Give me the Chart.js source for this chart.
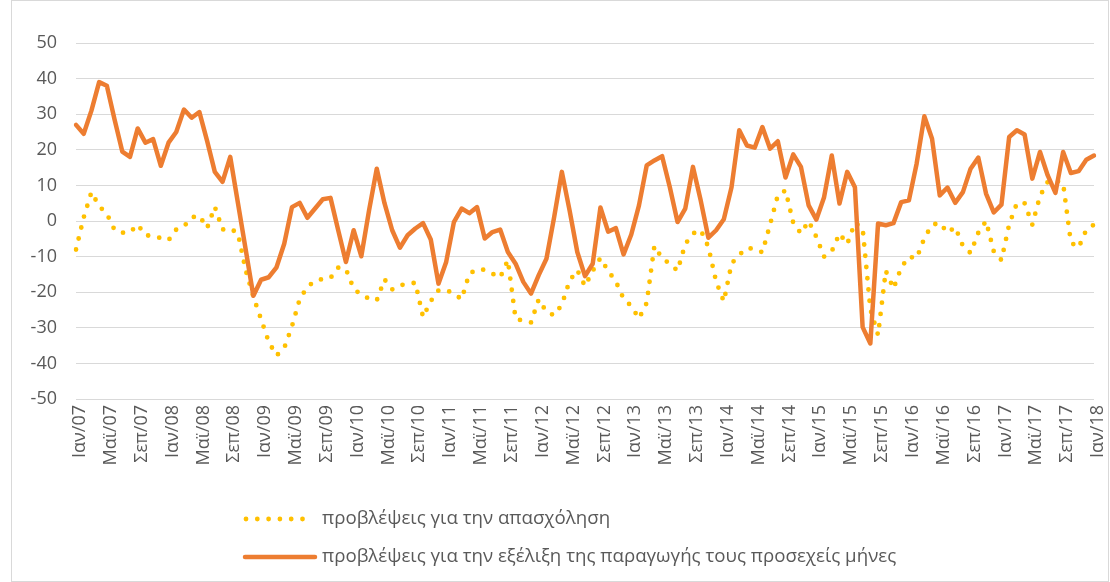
<!DOCTYPE html>
<html lang="el">
<head>
<meta charset="UTF-8">
<title>Προβλέψεις</title>
<script src="https://cdn.jsdelivr.net/npm/chart.js"></script>
<style>
  html, body { margin: 0; padding: 0; background: #fff; }
  #wrap { width: 1110px; height: 582px; position: relative; }
</style>
<script>
// monthly labels Ιαν/07 .. Ιαν/18
const monthNames = ['Ιαν','Φεβ','Μαρ','Απρ','Μαϊ','Ιουν','Ιουλ','Αυγ','Σεπ','Οκτ','Νοε','Δεκ'];
const years = ['07','08','09','10','11','12','13','14','15','16','17','18'];

// y axis ticks
const yTicks = [-50, -40, -30, -20, -10, 0, 10, 20, 30, 40, 50];

// προβλέψεις για την απασχόληση
const employment = [
  -8, 1, 8.1, 4.2, 2, -2.5, -3.3, -3.2, -1, -4, -4.2, -4.8,
  -5.4, -2.4, -1.5, 1, 1.5, -2, 4, -2.4, -2.1, -3.5, -13.8, -21.3,
  -27.6, -34, -37.8, -35.7, -29.6, -22, -18.5, -16.8, -16.3, -16, -13.1, -13.5,
  -19, -20.8, -21.8, -22.3, -16.4, -19.2, -18, -17.8, -17.3, -27, -22.5, -19.5,
  -19.4, -20.4, -22, -14.8, -13.6, -13.7, -14.8, -15.9, -11, -27.5, -28, -28.5,
  -22, -25.5, -26.5, -23.5, -16.8, -13.8, -18.3, -14, -10.4, -14, -17, -21.8,
  -23.9, -27.4, -23, -7, -10.5, -12, -14, -6.5, -3.5, -2.5, -7.3, -17,
  -22.6, -12, -9.5, -7.6, -7.8, -8.8, -1, 7.2, 8.6, -0.5, -3.5, 0,
  -4.5, -10, -8.5, -3.5, -6.5, -0.5, -2, -24.8, -32, -14, -19, -13.1,
  -10, -10.5, -4.8, -1.1, -0.5, -3.3, -1.7, -7, -9, -3.3, 0, -8.5,
  -11, -1, 5, 5, -1, 7, 11, 11.5, 10.5, -6, -7.5, -2.5,
  -1
];

// προβλέψεις για την εξέλιξη της παραγωγής τους προσεχείς μήνες
const production = [
  27, 24.5, 31, 39, 38, 28.5, 19.5, 18, 26, 22, 23, 15.5,
  22, 25, 31.3, 29, 30.6, 22.5, 13.8, 11, 18, 5, -8, -21,
  -16.5, -15.8, -13, -6.4, 3.9, 5.1, 0.9, 3.5, 6.1, 6.5, -2.6, -11.5,
  -2.6, -9.9, 3, 14.7, 5, -2.6, -7.5, -4, -2.1, -0.6, -5.2, -17.6,
  -11.5, -0.3, 3.5, 2.2, 3.9, -4.9, -3.1, -2.4, -8.7, -12, -17.1, -20.4,
  -15.2, -10.6, 1.1, 13.8, 3, -8.7, -15.5, -12, 3.8, -3, -2, -9.4,
  -3.8, 4.4, 15.6, 17, 18.2, 9.5, -0.3, 3.5, 15.2, 5.8, -4.7, -2.6,
  0.5, 9.5, 25.5, 21.2, 20.6, 26.4, 20.3, 22.4, 12.2, 18.7, 15.2, 4.4,
  0.4, 6.7, 18.4, 4.9, 13.8, 9.5, -29.8, -34.4, -0.7, -1.2, -0.6, 5.3,
  5.8, 16.1, 29.4, 23.1, 7.2, 9.4, 5.1, 8.1, 14.7, 17.8, 7.7, 2.4,
  4.6, 23.6, 25.5, 24.3, 11.9, 19.4, 12.8, 7.9, 19.4, 13.5, 14, 17.2,
  18.4
];

const labels = [];
years.forEach(function(y, yi){
  monthNames.forEach(function(m, mi){
    if (yi < years.length - 1 || mi === 0) labels.push(m + '/' + y);
  });
});

const textColor = '#595959';
const fontFamily = "'Open Sans', sans-serif";

// legend drawn under the plot, one entry per row
const rowLegend = {
  id: 'rowLegend',
  afterDraw: function(chart){
    const ctx = chart.ctx;
    const rows = [519, 557];
    ctx.save();
    chart.data.datasets.forEach(function(ds, i){
      const y = rows[i];
      ctx.beginPath();
      ctx.strokeStyle = ds.borderColor;
      ctx.lineWidth = ds.borderWidth;
      ctx.lineCap = 'round';
      ctx.setLineDash(ds.borderDash || []);
      ctx.moveTo(i === 0 ? 246 : 245, y);
      ctx.lineTo(i === 0 ? 312 : 315, y);
      ctx.stroke();
      ctx.setLineDash([]);
      ctx.fillStyle = textColor;
      ctx.font = '18.7px ' + fontFamily;
      ctx.textBaseline = 'middle';
      ctx.fillText(ds.label, 322, y);
    });
    // chart frame
    ctx.strokeStyle = '#d9d9d9';
    ctx.lineWidth = 1;
    ctx.strokeRect(11.5, 0.5, 1097, 581);
    ctx.restore();
  }
};

window.onload = function(){
  const ctx = document.getElementById('myChart');
  new Chart(ctx, {
    type: 'line',
    data: {
      labels: labels,
      datasets: [{
        label: 'προβλέψεις για την απασχόληση',
        data: employment,
        borderColor: '#FFC000',
        borderWidth: 4.8,
        borderDash: [0, 11.3],
        borderCapStyle: 'round',
        pointRadius: 0,
        tension: 0,
        order: 1
      }, {
        label: 'προβλέψεις για την εξέλιξη της παραγωγής τους προσεχείς μήνες',
        data: production,
        borderColor: '#ED7D31',
        borderWidth: 4.5,
        borderJoinStyle: 'round',
        borderCapStyle: 'round',
        pointRadius: 0,
        tension: 0,
        order: 0
      }]
    },
    options: {
      responsive: false,
      animation: false,
      layout: { padding: { top: 43, right: 16, bottom: 100, left: 0 } },
      plugins: {
        legend: { display: false },
        tooltip: { enabled: false }
      },
      scales: {
        x: {
          grid: { display: false, drawTicks: false },
          border: { display: false },
          afterFit: function(scale){
            scale.height = 83;
            scale.paddingLeft = 0;
            scale.paddingRight = 0;
          },
          ticks: {
            autoSkip: false,
            maxRotation: 90,
            minRotation: 90,
            padding: 6,
            labelOffset: 4,
            color: textColor,
            font: { family: fontFamily, size: 18 },
            callback: function(v, i){ return i % 4 === 0 ? labels[i] : ''; }
          }
        },
        y: {
          min: yTicks[0],
          max: yTicks[yTicks.length - 1],
          afterFit: function(scale){ scale.width = 76; },
          afterBuildTicks: function(scale){
            scale.ticks = yTicks.map(function(v){ return { value: v }; });
          },
          grid: { color: '#d9d9d9', lineWidth: 1, drawTicks: false },
          border: { display: false },
          ticks: {
            padding: 19,
            color: textColor,
            font: { family: fontFamily, size: 18 }
          }
        }
      }
    },
    plugins: [rowLegend]
  });
};
</script>
</head>
<body>
<div id="wrap"><canvas id="myChart" width="1110" height="582"></canvas></div>
</body>
</html>
